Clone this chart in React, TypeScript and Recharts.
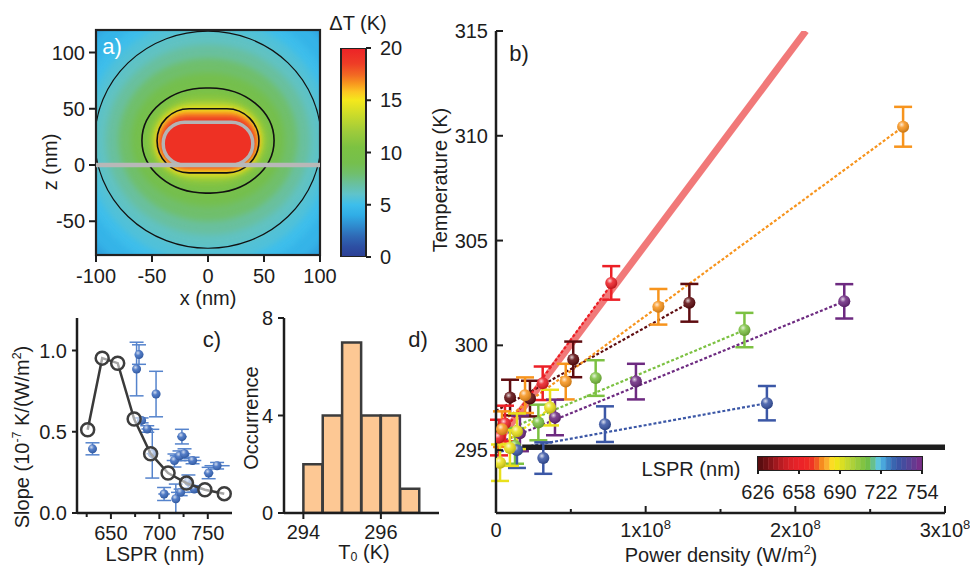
import React from "react";
import {
  ComposedChart,
  Scatter,
  Line,
  Bar,
  Cell,
  XAxis,
  YAxis,
  ErrorBar,
  ReferenceArea,
  ReferenceLine,
} from "recharts";

const FONT = "'Liberation Sans', Arial, Helvetica, sans-serif";
const INK = "#1d1d1d";

// ---------- a) temperature map ----------
const xTicksA = [-100, -50, 0, 50, 100];
const zTicksA = [-50, 0, 50, 100];
const dTTicks = [0, 5, 10, 15, 20];

// ΔT (K) -> colour of the colour bar
const dTStops: [number, string][] = [
  [0, "#2c3f95"],
  [1, "#2d4fa3"],
  [2, "#2f6ab6"],
  [3, "#2f8ccf"],
  [4, "#30ade6"],
  [5, "#3dbeeb"],
  [6, "#5fc3cb"],
  [7, "#69c09e"],
  [8, "#70bf6c"],
  [9, "#75bf4d"],
  [10.5, "#7cc242"],
  [12, "#9ecb3b"],
  [13.5, "#c8da2b"],
  [15, "#f4e81c"],
  [15.8, "#fcc622"],
  [16.6, "#f8971e"],
  [17.4, "#f26a23"],
  [18.5, "#ee3d26"],
  [20, "#ec2227"],
];

// heat levels: [ΔT (K), x min, x max, z min, z max] (nm)
const heatBands: number[][] = [
  [4.4, -135, 135, -113, 157],
  [5.0, -120, 120, -98, 142],
  [5.6, -110, 110, -87, 131],
  [6.2, -101, 101, -74, 119],
  [7.0, -91, 91, -62, 107],
  [8.0, -80, 80, -50, 95],
  [9.0, -69, 69, -37, 82],
  [10, -59, 59, -25, 68.5],
  [11, -54, 54, -18, 62],
  [12.3, -50, 50, -13, 57],
  [13.8, -47, 47, -9, 52.5],
  [15, -45.5, 45.5, -7, 50],
  [16.3, -44, 44, -4.5, 47],
  [17.5, -42.8, 42.8, -2.5, 44.5],
  [19, -41.7, 41.7, -1, 42],
];

// black iso-lines: [ΔT, x min, x max, z min, z max]
const isoLines: number[][] = [
  [6.2, -101, 101, -74, 119],
  [10, -59, 59, -25, 68.5],
  [15, -45.5, 45.5, -7, 50],
];

// rod outline: [x min, x max, z min, z max]
const rodBox = [-40, 40, 0, 38];

// ---------- b) temperature vs power density ----------
const pTicks = [0, 0.5e8, 1e8, 1.5e8, 2e8, 2.5e8, 3e8];
const pMajor = [0, 1e8, 2e8, 3e8];
const tTicks = [295, 300, 305, 310, 315];

const pts632 = [
  { p: 0.094e8, t: 297.51, e: 0.85 },
  { p: 0.227e8, t: 297.46, e: 0.85 },
  { p: 0.516e8, t: 299.33, e: 0.85 },
  { p: 1.292e8, t: 302.03, e: 0.9 },
];
const fit632 = [{ p: 0, t: 296.87 }, { p: 1.292e8, t: 302.03 }];

const pts650 = [
  { p: 0.02e8, t: 295.6, e: 0.85 },
  { p: 0.06e8, t: 296.27, e: 0.85 },
  { p: 0.312e8, t: 298.19, e: 0.8 },
  { p: 0.77e8, t: 302.98, e: 0.8 },
];
const fit650 = [{ p: 0, t: 295.4 }, { p: 0.77e8, t: 302.9 }];

const pts675 = [
  { p: 0.04e8, t: 296.0, e: 0.85 },
  { p: 0.194e8, t: 297.62, e: 0.85 },
  { p: 0.466e8, t: 298.27, e: 0.85 },
  { p: 1.085e8, t: 301.84, e: 0.85 },
  { p: 2.72e8, t: 310.43, e: 0.95 },
];
const fit675 = [{ p: 0, t: 296.16 }, { p: 2.72e8, t: 310.43 }];

const pts686 = [
  { p: 0.027e8, t: 294.4, e: 0.87 },
  { p: 0.093e8, t: 295.1, e: 0.85 },
  { p: 0.14e8, t: 295.9, e: 0.85 },
  { p: 0.361e8, t: 297.03, e: 0.85 },
];
const fit686 = [{ p: 0, t: 295.0 }, { p: 0.361e8, t: 297.0 }];

const pts706 = [
  { p: 0.127e8, t: 295.2, e: 0.85 },
  { p: 0.283e8, t: 296.32, e: 0.85 },
  { p: 0.666e8, t: 298.44, e: 0.85 },
  { p: 1.66e8, t: 300.73, e: 0.82 },
];
const fit706 = [{ p: 0, t: 295.75 }, { p: 1.66e8, t: 300.73 }];

const pts730 = [
  { p: 0.14e8, t: 295.0, e: 0.85 },
  { p: 0.316e8, t: 294.62, e: 0.75 },
  { p: 0.728e8, t: 296.24, e: 0.85 },
  { p: 1.81e8, t: 297.24, e: 0.82 },
];
const fit730 = [{ p: 0, t: 294.9 }, { p: 1.81e8, t: 297.24 }];

const pts750 = [
  { p: 0.16e8, t: 295.8, e: 0.85 },
  { p: 0.394e8, t: 296.56, e: 0.85 },
  { p: 0.935e8, t: 298.27, e: 0.85 },
  { p: 2.327e8, t: 302.1, e: 0.82 },
];
const fit750 = [{ p: 0, t: 295.3 }, { p: 2.327e8, t: 302.1 }];

// thick reference line
const theoryLine = [{ p: 0, t: 295.3 }, { p: 2.07e8, t: 315 }];
// top edge of the colour-bar box
const legendEdge = [{ x: 0.175e8, y: 295.14 }, { x: 3e8, y: 295.14 }];

// LSPR colour bar (4 nm steps, lower edge of each step)
const lsprTicks = [626, 658, 690, 722, 754];
const lsprSteps = [
  626, 630, 634, 638, 642, 646, 650, 654, 658, 662, 666, 670, 674, 678, 682, 686,
  690, 694, 698, 702, 706, 710, 714, 718, 722, 726, 730, 734, 738, 742, 746, 750,
];
const lsprStepColors = [
  "#5b0d10", "#6f1014", "#871419", "#a0181e", "#b81c22", "#cc1f25", "#dc2127", "#e62228",
  "#ec2328", "#ee2826", "#ef3424", "#f15a24", "#f68b1f", "#fbae2f", "#fcdc24", "#eee51b",
  "#dadf23", "#c4d82f", "#add139", "#97ca3e", "#82c342", "#70be49", "#67c08d", "#5ec6dc",
  "#4aa7dc", "#3d83c4", "#3a66b0", "#3b55a5", "#464c9e", "#554497", "#663a90", "#772f89",
];

// ---------- c) slope vs LSPR ----------
const simLspr = [626, 641, 657, 674, 691, 709, 728, 747, 767];
const simSlope = [0.512, 0.953, 0.922, 0.578, 0.365, 0.246, 0.184, 0.143, 0.119];

const expLspr = [631, 676.5, 679, 696.6, 681.7, 687.5, 692.7, 715.6, 723.3, 720.8, 726, 734.3, 730, 750.9, 759.6, 704.9, 717, 722, 736];
const expSlope = [0.395, 0.886, 0.975, 0.732, 0.57, 0.517, 0.365, 0.323, 0.47, 0.352, 0.365, 0.323, 0.194, 0.246, 0.291, 0.117, 0.088, 0.127, 0.148];
const expErrY = [0.037, 0.165, 0.06, 0.14, 0.015, 0.02, 0.15, 0.04, 0.045, 0.03, 0.03, 0.02, 0.04, 0.035, 0.02, 0.04, 0.09, 0.02, 0.02];
const expErrX = [0, 0, 3, 0, 4, 6, 6, 8, 5, 10, 6, 9, 0, 5, 13, 6, 0, 10, 8];

// ---------- d) histogram of T0 ----------
const t0Bins = [294.25, 294.75, 295.25, 295.75, 296.25, 296.75];
const t0Counts = [2, 4, 7, 4, 4, 1];

const lsprColor: Record<string, string> = {
  "632": "#5e0c10",
  "650": "#ec1f26",
  "675": "#f7941d",
  "686": "#e9e01c",
  "706": "#7cc142",
  "730": "#3b57a6",
  "750": "#6d2a80",
};

// ---------- helpers ----------
function mix(a: string, b: string, f: number) {
  const pa = [1, 3, 5].map((i) => parseInt(a.slice(i, i + 2), 16));
  const pb = [1, 3, 5].map((i) => parseInt(b.slice(i, i + 2), 16));
  const k = Math.max(0, Math.min(1, f));
  return (
    "#" +
    pa.map((v, i) => Math.round(v + (pb[i] - v) * k).toString(16).padStart(2, "0")).join("")
  );
}

function dTColor(v: number) {
  for (let i = 1; i < dTStops.length; i++) {
    const [v0, c0] = dTStops[i - 1];
    const [v1, c1] = dTStops[i];
    if (v <= v1) return mix(c0, c1, (v - v0) / (v1 - v0));
  }
  return dTStops[dTStops.length - 1][1];
}

// rounded shape: ellipse far from the rod, stadium close to it
function band(dT: number, fill: string, stroke = "none", sw = 0, filter?: string) {
  return (p: any) => {
    const w = Math.abs(p.width);
    const h = Math.abs(p.height);
    const t = Math.min(1, Math.max(0, (dT - 9) / 6));
    const ry = h / 2;
    const rx = w / 2 + (ry - w / 2) * t;
    return (
      <rect
        x={p.x}
        y={p.y}
        width={w}
        height={h}
        rx={rx}
        ry={ry}
        fill={fill}
        stroke={stroke}
        strokeWidth={sw}
        filter={filter}
        clipPath={p.clipPath}
      />
    );
  };
}

function box(fill: string, stroke = "none", sw = 0) {
  return (p: any) => (
    <rect
      x={p.x}
      y={p.y}
      width={Math.abs(p.width)}
      height={Math.abs(p.height)}
      fill={fill}
      stroke={stroke}
      strokeWidth={sw}
      clipPath={p.clipPath}
    />
  );
}

type Side = "bottom" | "top" | "left" | "right";
type TickOpts = {
  inward?: boolean;
  majors?: number[];
  fmt?: (v: number) => React.ReactNode;
  offset?: number;
  len?: number;
  minorLen?: number;
};

function makeTick(side: Side, o: TickOpts = {}) {
  const { inward = true, majors = [], fmt, offset = 10, len = 7, minorLen = 4 } = o;
  return (props: any) => {
    const x = Number(props.x);
    const y = Number(props.y);
    const v = Number(props.payload?.value);
    const major = majors.some((m) => Math.abs(m - v) <= 1e-6 * Math.max(1, Math.abs(m)));
    const L = major ? len : minorLen;
    const out = inward ? -1 : 1;
    const label = major && fmt ? fmt(v) : null;
    const ts = { fontFamily: FONT, fontSize: 20, fill: INK };
    if (side === "bottom")
      return (
        <g>
          <line x1={x} x2={x} y1={y} y2={y + out * L} stroke={INK} strokeWidth={2} />
          {label !== null && (
            <text x={x} y={y + offset} textAnchor="middle" {...ts}>
              {label}
            </text>
          )}
        </g>
      );
    if (side === "top")
      return <line x1={x} x2={x} y1={y} y2={y - out * L} stroke={INK} strokeWidth={2} />;
    if (side === "left")
      return (
        <g>
          <line x1={x} x2={x - out * L} y1={y} y2={y} stroke={INK} strokeWidth={2} />
          {label !== null && (
            <text x={x - offset} y={y + 7} textAnchor="end" {...ts}>
              {label}
            </text>
          )}
        </g>
      );
    return (
      <g>
        <line x1={x} x2={x + out * L} y1={y} y2={y} stroke={INK} strokeWidth={2} />
        {label !== null && (
          <text x={x + offset} y={y + 7} textAnchor="start" {...ts}>
            {label}
          </text>
        )}
      </g>
    );
  };
}

const noTick = () => <g />;

function sphere(color: string, r: number, shineId: string) {
  return (p: any) => (
    <g>
      <circle cx={p.cx} cy={p.cy} r={r} fill={color} />
      <circle cx={p.cx} cy={p.cy} r={r} fill={`url(#${shineId})`} />
    </g>
  );
}

const axisLine = { stroke: INK, strokeWidth: 2.5 };
const noTickProps = { tickSize: 0, tickMargin: 0, tickLine: false, interval: 0 as const, allowDataOverflow: true };

function Title({ x, y, rot = 0, color = INK, size = 20, children }: any) {
  return (
    <div
      style={{
        position: "absolute",
        left: x,
        top: y,
        transform: `translate(-50%, -50%) rotate(${rot}deg)`,
        fontFamily: FONT,
        fontSize: size,
        color,
        whiteSpace: "nowrap",
        lineHeight: 1,
      }}
    >
      {children}
    </div>
  );
}

const sup = { fontSize: "0.62em", lineHeight: 0 };
const sub = { fontSize: "0.62em", lineHeight: 0, verticalAlign: "-0.2em" };

// ---------- panels ----------
function PanelA() {
  return (
    <ComposedChart width={360} height={300} margin={{ top: 30, right: 40, bottom: 5, left: 36 }}>
      <defs>
        <filter id="heatBlur" x="-30%" y="-30%" width="160%" height="160%">
          <feGaussianBlur stdDeviation="3" />
        </filter>
      </defs>
      <XAxis
        type="number"
        dataKey="x"
        domain={[-100, 100]}
        ticks={xTicksA}
        height={40}
        axisLine={false}
        {...noTickProps}
        tick={makeTick("bottom", { inward: false, majors: xTicksA, fmt: (v) => String(v), offset: 28 })}
      />
      <YAxis
        type="number"
        dataKey="z"
        domain={[-80, 120]}
        ticks={zTicksA}
        width={60}
        axisLine={false}
        {...noTickProps}
        tick={makeTick("left", { inward: false, majors: zTicksA, fmt: (v) => String(v), offset: 11 })}
      />
      <ReferenceArea x1={-100} x2={100} y1={-80} y2={120} shape={box(dTColor(3.7))} />
      {heatBands.map(([dT, x1, x2, y1, y2]) => (
        <ReferenceArea
          key={`hb${dT}`}
          x1={x1}
          x2={x2}
          y1={y1}
          y2={y2}
          ifOverflow="hidden"
          shape={band(dT, dTColor(dT), "none", 0, "url(#heatBlur)")}
        />
      ))}
      {isoLines.map(([dT, x1, x2, y1, y2]) => (
        <ReferenceArea
          key={`iso${dT}`}
          x1={x1}
          x2={x2}
          y1={y1}
          y2={y2}
          ifOverflow="hidden"
          shape={band(dT, "none", "#111", dT < 8 ? 1.2 : 1.6)}
        />
      ))}
      <ReferenceArea
        x1={rodBox[0]}
        x2={rodBox[1]}
        y1={rodBox[2]}
        y2={rodBox[3]}
        shape={band(20, "#ee3124", "#b4b4b4", 3.5)}
      />
      <ReferenceLine y={0} stroke="#b8b8b8" strokeWidth={4.5} />
      <ReferenceArea x1={-100} x2={100} y1={-80} y2={120} shape={box("none", "#222", 2.2)} />
    </ComposedChart>
  );
}

function ColorbarA() {
  const bar = [{ k: "dT", top: dTTicks[dTTicks.length - 1] }];
  return (
    <ComposedChart
      width={130}
      height={300}
      data={bar}
      margin={{ top: 48, right: 14, bottom: 43, left: 41 }}
      barCategoryGap={0}
    >
      <defs>
        <linearGradient id="dTGrad" x1="0" y1="1" x2="0" y2="0">
          {dTStops.map(([v, c]) => (
            <stop key={v} offset={v / 20} stopColor={c} />
          ))}
        </linearGradient>
      </defs>
      <XAxis dataKey="k" type="category" height={0} axisLine={false} tickLine={false} tick={noTick} />
      <YAxis
        orientation="right"
        type="number"
        dataKey="top"
        domain={[0, 20]}
        ticks={dTTicks}
        width={50}
        axisLine={false}
        {...noTickProps}
        tick={makeTick("right", { inward: false, majors: dTTicks, fmt: (v) => String(v), offset: 14, len: 5 })}
      />
      <Bar dataKey="top" fill="url(#dTGrad)" stroke="#222" strokeWidth={2} isAnimationActive={false} />
    </ComposedChart>
  );
}

const fmtP = (v: number) =>
  v === 0 ? (
    "0"
  ) : (
    <>
      <tspan>{Math.round(v / 1e8)}x10</tspan>
      <tspan dy={-8} fontSize={13}>
        8
      </tspan>
    </>
  );

function PanelB() {
  const series = [
    { k: "632", pts: pts632, fit: fit632 },
    { k: "650", pts: pts650, fit: fit650 },
    { k: "675", pts: pts675, fit: fit675 },
    { k: "706", pts: pts706, fit: fit706 },
    { k: "750", pts: pts750, fit: fit750 },
    { k: "730", pts: pts730, fit: fit730 },
    { k: "686", pts: pts686, fit: fit686 },
  ];
  return (
    <ComposedChart width={550} height={567} margin={{ top: 31, right: 25, bottom: 14, left: 16 }}>
      <defs>
        <radialGradient id="shineB" cx="38%" cy="32%" r="65%">
          <stop offset="0%" stopColor="#fff" stopOpacity={0.8} />
          <stop offset="40%" stopColor="#fff" stopOpacity={0.12} />
          <stop offset="100%" stopColor="#000" stopOpacity={0.18} />
        </radialGradient>
      </defs>
      <XAxis
        type="number"
        dataKey="p"
        domain={[0, 3e8]}
        ticks={pTicks}
        height={40}
        axisLine={axisLine}
        {...noTickProps}
        tick={makeTick("bottom", { majors: pMajor, fmt: fmtP, offset: 24 })}
      />
      <XAxis
        xAxisId="top"
        orientation="top"
        type="number"
        dataKey="p"
        domain={[0, 3e8]}
        ticks={pTicks}
        height={0}
        axisLine={axisLine}
        {...noTickProps}
        tick={makeTick("top", { majors: pMajor })}
      />
      <YAxis
        type="number"
        dataKey="t"
        domain={[292, 315]}
        ticks={tTicks}
        width={60}
        axisLine={axisLine}
        {...noTickProps}
        tick={makeTick("left", { majors: tTicks, fmt: (v) => String(v), offset: 8 })}
      />
      <YAxis
        yAxisId="right"
        orientation="right"
        type="number"
        dataKey="t"
        domain={[292, 315]}
        ticks={tTicks}
        width={0}
        axisLine={axisLine}
        {...noTickProps}
        tick={makeTick("right", { majors: tTicks })}
      />
      {/* same domains on both axis pairs: the thick line also carries the mirror axes */}
      <Line
        xAxisId="top"
        yAxisId="right"
        data={theoryLine}
        dataKey="t"
        stroke="#f06e6e"
        strokeOpacity={0.92}
        strokeWidth={7}
        dot={false}
        isAnimationActive={false}
      />
      {series.map((s) => (
        <Line
          key={`fit${s.k}`}
          data={s.fit}
          dataKey="t"
          stroke={lsprColor[s.k]}
          strokeWidth={2.2}
          strokeDasharray="3 2"
          dot={false}
          isAnimationActive={false}
        />
      ))}
      <ReferenceLine segment={legendEdge} stroke={INK} strokeWidth={5.5} />
      {series.map((s) => (
        <Scatter
          key={`pts${s.k}`}
          data={s.pts}
          isAnimationActive={false}
          shape={sphere(lsprColor[s.k], 6, "shineB")}
        >
          <ErrorBar dataKey="e" direction="y" width={9} stroke={lsprColor[s.k]} strokeWidth={2.5} />
        </Scatter>
      ))}
    </ComposedChart>
  );
}

function ColorbarB() {
  const steps = lsprSteps.map((v) => ({ c: v + 2, h: 1 }));
  return (
    <ComposedChart
      width={320}
      height={80}
      data={steps}
      margin={{ top: 17, right: 38, bottom: 10, left: 118 }}
      barCategoryGap={0}
      barGap={0}
    >
      <XAxis
        type="number"
        dataKey="c"
        domain={[626, 754]}
        ticks={lsprTicks}
        height={40}
        axisLine={false}
        {...noTickProps}
        tick={makeTick("bottom", { inward: false, majors: lsprTicks, fmt: (v) => String(v), offset: 29, len: 4 })}
      />
      <YAxis type="number" dataKey="h" domain={[0, 1]} width={0} axisLine={false} {...noTickProps} tick={noTick} />
      <Bar dataKey="h" isAnimationActive={false}>
        {steps.map((s, i) => (
          <Cell key={s.c} fill={lsprStepColors[i]} stroke={lsprStepColors[i]} strokeWidth={0.6} />
        ))}
      </Bar>
      <ReferenceArea x1={626} x2={754} y1={0} y2={1} ifOverflow="visible" shape={box("none", "#222", 2)} />
    </ComposedChart>
  );
}

function PanelC() {
  const sim = simLspr.map((l, i) => ({ l, s: simSlope[i] }));
  const exp = expLspr.map((l, i) => ({ l, s: expSlope[i], ey: expErrY[i], ex: expErrX[i] }));
  const lTicks = [625, 650, 675, 700, 725, 750];
  const lMajor = [650, 700, 750];
  const sTicks = [0, 0.25, 0.5, 0.75, 1.0];
  const sMajor = [0, 0.5, 1.0];
  return (
    <ComposedChart width={250} height={277} margin={{ top: 28, right: 18, bottom: 14, left: 17 }}>
      <defs>
        <radialGradient id="shineC" cx="38%" cy="32%" r="65%">
          <stop offset="0%" stopColor="#fff" stopOpacity={0.75} />
          <stop offset="45%" stopColor="#fff" stopOpacity={0.1} />
          <stop offset="100%" stopColor="#000" stopOpacity={0.15} />
        </radialGradient>
      </defs>
      <XAxis
        type="number"
        dataKey="l"
        domain={[615, 775]}
        ticks={lTicks}
        height={40}
        axisLine={axisLine}
        {...noTickProps}
        tick={makeTick("bottom", { inward: false, majors: lMajor, fmt: (v) => String(v), offset: 27, len: 6 })}
      />
      <XAxis
        xAxisId="top"
        orientation="top"
        type="number"
        dataKey="l"
        domain={[615, 775]}
        ticks={lMajor}
        height={0}
        axisLine={axisLine}
        {...noTickProps}
        tick={makeTick("top", { majors: lMajor, len: 5 })}
      />
      <YAxis
        type="number"
        dataKey="s"
        domain={[0, 1.2]}
        ticks={sMajor}
        width={60}
        axisLine={axisLine}
        {...noTickProps}
        tick={makeTick("left", { inward: false, majors: sMajor, fmt: (v) => v.toFixed(1), offset: 10, len: 5 })}
      />
      <YAxis
        yAxisId="right"
        orientation="right"
        type="number"
        dataKey="s"
        domain={[0, 1.2]}
        ticks={sTicks}
        width={0}
        axisLine={axisLine}
        {...noTickProps}
        tick={makeTick("right", { majors: sMajor, len: 6, minorLen: 4 })}
      />
      <Scatter data={exp} isAnimationActive={false} shape={sphere("#3d6cbf", 4.5, "shineC")}>
        <ErrorBar dataKey="ey" direction="y" width={7} stroke="#5583cc" strokeWidth={1.5} />
        <ErrorBar dataKey="ex" direction="x" width={0} stroke="#5583cc" strokeWidth={1.5} />
      </Scatter>
      <Scatter
        xAxisId="top"
        yAxisId="right"
        data={sim}
        isAnimationActive={false}
        line={{ stroke: "#3a3a3a", strokeWidth: 2.5 }}
        shape={(p: any) => (
          <circle cx={p.cx} cy={p.cy} r={6.5} fill="#ffffff" fillOpacity={0.55} stroke="#3d3d3d" strokeWidth={2.5} />
        )}
      />
    </ComposedChart>
  );
}

function PanelD() {
  const hist = t0Bins.map((b, i) => ({ bin: b, n: t0Counts[i] }));
  const nTicks = [0, 4, 8];
  const tickT = [294, 296];
  return (
    <ComposedChart
      width={210}
      height={277}
      data={hist}
      margin={{ top: 28, right: 11, bottom: 14, left: 14 }}
      barCategoryGap={0}
      barGap={0}
    >
      <XAxis
        type="number"
        dataKey="bin"
        domain={[293.5, 297.5]}
        ticks={tickT}
        height={40}
        axisLine={axisLine}
        {...noTickProps}
        tick={makeTick("bottom", { inward: false, majors: tickT, fmt: (v) => String(v), offset: 26, len: 6 })}
      />
      <XAxis
        xAxisId="top"
        orientation="top"
        type="number"
        dataKey="bin"
        domain={[293.5, 297.5]}
        ticks={tickT}
        height={0}
        axisLine={axisLine}
        {...noTickProps}
        tick={makeTick("top", { majors: tickT, len: 5 })}
      />
      <YAxis
        type="number"
        dataKey="n"
        domain={[0, 8]}
        ticks={nTicks}
        width={30}
        axisLine={axisLine}
        {...noTickProps}
        tick={makeTick("left", { inward: false, majors: nTicks, fmt: (v) => String(v), offset: 11, len: 6 })}
      />
      <YAxis
        yAxisId="right"
        orientation="right"
        type="number"
        dataKey="n"
        domain={[0, 8]}
        ticks={[2, 4, 6]}
        width={0}
        axisLine={axisLine}
        {...noTickProps}
        tick={makeTick("right", { majors: [2, 4, 6], len: 6 })}
      />
      <Bar dataKey="n" fill="#fdc894" stroke="#3c3c3c" strokeWidth={2.5} isAnimationActive={false} />
      {/* invisible carrier so the mirror axes get their scales */}
      <Scatter xAxisId="top" yAxisId="right" dataKey="n" isAnimationActive={false} shape={() => <g />} />
    </ComposedChart>
  );
}

export default function App() {
  return (
    <div
      style={{
        position: "absolute",
        left: 0,
        top: 0,
        width: 970,
        height: 567,
        background: "#ffffff",
        overflow: "hidden",
        fontFamily: FONT,
      }}
    >
      <div style={{ position: "absolute", left: 0, top: 0 }}>
        <PanelA />
      </div>
      <div style={{ position: "absolute", left: 300, top: 0 }}>
        <ColorbarA />
      </div>
      <div style={{ position: "absolute", left: 420, top: 0 }}>
        <PanelB />
      </div>
      <div style={{ position: "absolute", left: 640, top: 440 }}>
        <ColorbarB />
      </div>
      <div style={{ position: "absolute", left: 0, top: 290 }}>
        <PanelC />
      </div>
      <div style={{ position: "absolute", left: 240, top: 290 }}>
        <PanelD />
      </div>

      <Title x={112} y={47} color="#ffffff" size={22}>a)</Title>
      <Title x={358} y={23}>ΔT (K)</Title>
      <Title x={208} y={298}>x (nm)</Title>
      <Title x={50} y={162} rot={-90}>z (nm)</Title>

      <Title x={519} y={54} size={22}>b)</Title>
      <Title x={440} y={180} rot={-90}>Temperature (K)</Title>
      <Title x={721} y={555}>
        Power density (W/m<sup style={sup}>2</sup>)
      </Title>
      <Title x={691} y={469}>LSPR (nm)</Title>

      <Title x={212} y={340} size={22}>c)</Title>
      <Title x={22} y={437} rot={-90}>
        Slope (10<sup style={sup}>-7</sup> K/(W/m<sup style={sup}>2</sup>)
      </Title>
      <Title x={155} y={554}>LSPR (nm)</Title>

      <Title x={418} y={340} size={22}>d)</Title>
      <Title x={251} y={418} rot={-90}>Occurrence</Title>
      <Title x={364} y={552}>
        T<sub style={sub}>0</sub> (K)
      </Title>
    </div>
  );
}
